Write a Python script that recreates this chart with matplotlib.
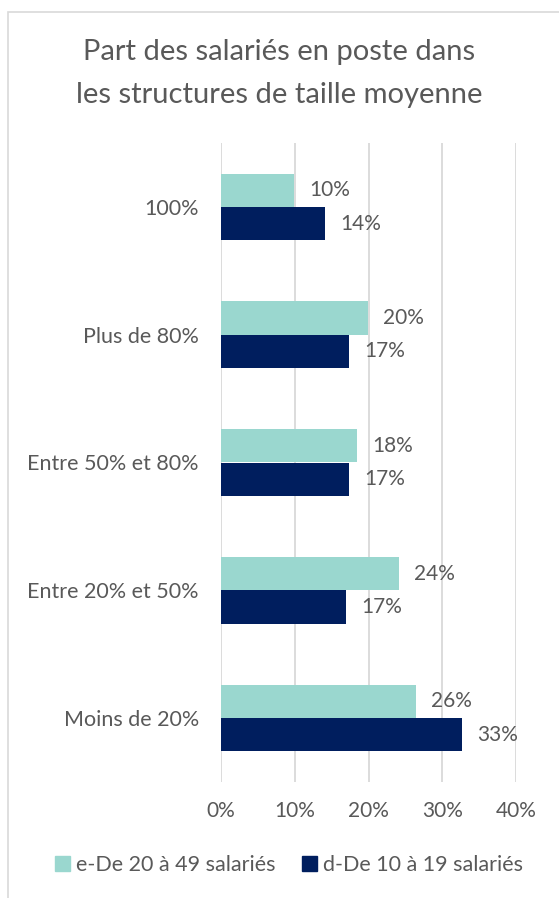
import matplotlib
matplotlib.use("Agg")
import matplotlib.pyplot as plt
from matplotlib.patches import Rectangle, Patch
import numpy as np

categories = ["Moins de 20%", "Entre 20% et 50%", "Entre 50% et 80%", "Plus de 80%", "100%"]
series_names = ["e-De 20 à 49 salariés", "d-De 10 à 19 salariés"]
values_e = [26.4, 24.1, 18.4, 19.9, 9.9]
values_d = [32.7, 16.9, 17.4, 17.4, 14.1]
xticks = [0, 10, 20, 30, 40]

TEAL = "#9AD7CF"
NAVY = "#001E5E"
GRAY = "#595959"
GRID = "#D9D9D9"
FS = 15.5

plt.rcParams['font.family'] = ['Lato', 'DejaVu Sans']

fig = plt.figure(figsize=(5.59, 8.98), dpi=100)
fig.patches.append(Rectangle((8 / 559, -0.1), 1.2, 1 - 12 / 898 + 0.1, transform=fig.transFigure,
                             facecolor="none", edgecolor=GRID, lw=1.2, zorder=-10))
ax = fig.add_axes([221 / 559, 1 - 782 / 898, 295 / 559, 639 / 898])
ax.set_facecolor("none")

y = np.arange(len(categories))
h = 0.26
bars_e = ax.barh(y + h / 2, values_e, height=h, color=TEAL, zorder=3)
bars_d = ax.barh(y - h / 2, values_d, height=h, color=NAVY, zorder=3)

for bars, vals in ((bars_e, values_e), (bars_d, values_d)):
    for b, v in zip(bars, vals):
        ax.annotate("{:.0f}%".format(v), (v, b.get_y() + b.get_height() / 2),
                    xytext=(11, 0), textcoords="offset points", va="center", ha="left",
                    fontsize=15, color=GRAY)

ax.set_xlim(0, 40)
ax.set_ylim(-0.5, len(categories) - 0.5)
ax.set_xticks(xticks)
ax.set_xticklabels(["{}%".format(t) for t in xticks])
ax.set_yticks(y)
ax.set_yticklabels(categories)
ax.tick_params(axis="both", length=0, labelsize=FS, labelcolor=GRAY)
ax.tick_params(axis="x", labelsize=15)
ax.tick_params(axis="y", pad=16)
ax.tick_params(axis="x", pad=14)
ax.grid(axis="x", color=GRID, lw=1.3, zorder=0)
for s in ax.spines.values():
    s.set_visible(False)

# two title lines placed separately to match the wide line gap
fig.text(0.5, 1 - 52 / 898, "Part des salariés en poste dans",
         ha="center", va="center", fontsize=21, color=GRAY)
fig.text(0.5, 1 - 95 / 898, "les structures de taille moyenne",
         ha="center", va="center", fontsize=21, color=GRAY)

handles = [Patch(color=TEAL), Patch(color=NAVY)]
fig.legend(handles, series_names, loc="center", bbox_to_anchor=(0.517, 1 - 865 / 898),
           ncol=2, frameon=False, fontsize=FS, labelcolor=GRAY, handlelength=0.7,
           handleheight=0.7, handletextpad=0.3, columnspacing=1.2)

fig.savefig("out.png", dpi=100)
